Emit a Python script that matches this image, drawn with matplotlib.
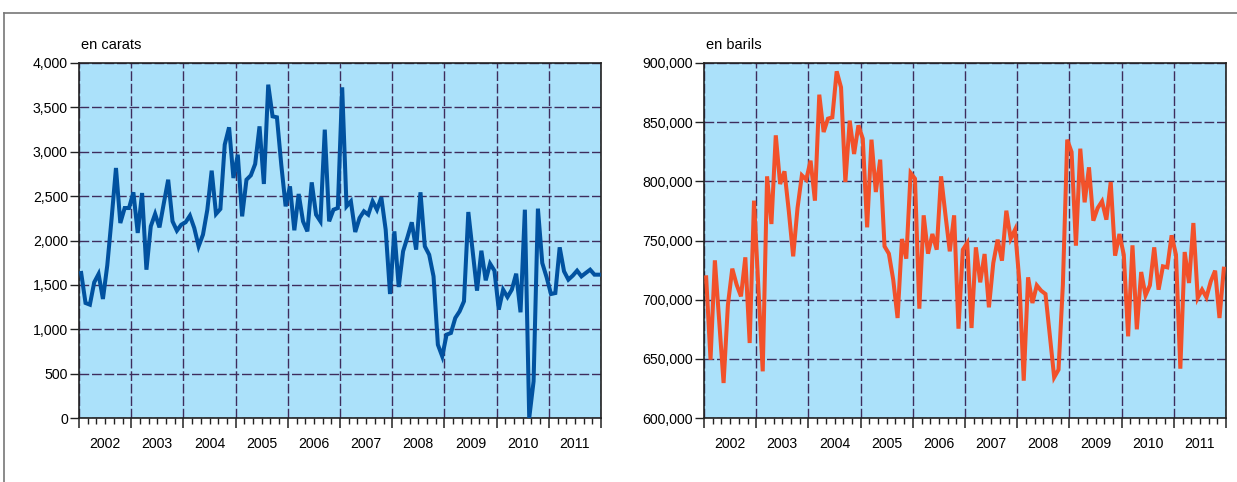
import matplotlib
matplotlib.use("Agg")
import matplotlib.pyplot as plt
import numpy as np
from matplotlib.ticker import FuncFormatter, MultipleLocator
from matplotlib.lines import Line2D

plt.rcParams['font.family'] = ['Liberation Sans', 'DejaVu Sans']

years = [2002, 2003, 2004, 2005, 2006, 2007, 2008, 2009, 2010, 2011]
year_labels = [str(y) for y in years]

carats = [
    # 2002
    1634, 1296, 1277, 1529, 1622, 1341, 1720, 2250, 2817, 2197, 2366, 2366,
    # 2003
    2543, 2085, 2535, 1671, 2160, 2299, 2148, 2420, 2685, 2216, 2111, 2178,
    # 2004
    2205, 2280, 2140, 1934, 2066, 2347, 2787, 2299, 2355, 3080, 3275, 2704,
    # 2005
    2967, 2272, 2685, 2734, 2862, 3286, 2637, 3756, 3399, 3388, 2854, 2385,
    # 2006
    2610, 2115, 2524, 2216, 2103, 2655, 2291, 2216, 3249, 2216, 2347, 2366,
    # 2007
    3726, 2385, 2441, 2096, 2254, 2329, 2291, 2441, 2347, 2486, 2122, 1397,
    # 2008
    2103, 1476, 1878, 2036, 2205, 1897, 2543, 1934, 1840, 1596, 826, 695,
    # 2009
    939, 958, 1127, 1202, 1315, 2321, 1878, 1435, 1885, 1551, 1739, 1660,
    # 2010
    1221, 1446, 1363, 1446, 1626, 1191, 2347, 0, 413, 2359, 1746, 1585,
    # 2011
    1397, 1408, 1923, 1653, 1559, 1604, 1660, 1596, 1634, 1671, 1615, 1615,
]

barrels = [
    # 2002
    718870, 649290, 733230, 681680, 629570, 695770, 726190, 712670, 702810, 735770, 663370, 783660,
    # 2003
    710000, 639430, 804220, 763940, 838870, 797740, 808450, 774640, 736610, 777460, 805070, 801410,
    # 2004
    817460, 783660, 873240, 841690, 852960, 854090, 892960, 879440, 799430, 851270, 823100, 847320,
    # 2005
    836050, 761120, 835210, 790980, 818310, 745070, 738870, 716900, 684500, 751270, 734650, 807040,
    # 2006
    802250, 692390, 771260, 738870, 755490, 742250, 804220, 771820, 740840, 771260, 675480, 742250,
    # 2007
    747880, 676050, 744220, 714640, 738590, 693520, 730980, 750700, 732950, 775200, 751540, 759150,
    # 2008
    715490, 631540, 718870, 697180, 712110, 707600, 704780, 669850, 634360, 640840, 712670, 835210,
    # 2009
    824780, 745630, 827600, 782250, 811830, 766760, 777460, 783100, 767600, 799430, 737180, 755490,
    # 2010
    738020, 669010, 745910, 674930, 723370, 703650, 712110, 744220, 708440, 728160, 727320, 754360,
    # 2011
    738020, 641680, 740270, 714080, 764780, 701400, 708440, 701960, 715490, 724500, 684500, 726190,
]

n = len(carats)
t = years[0] + (np.arange(n) + 0.5) / 12.0

W, H = 1237, 482
fig = plt.figure(figsize=(W / 100, H / 100), dpi=100)

bg = '#ABE1FA'
grid_col = '#3E2D5C'
fs = 10.2


def make_axes(left_px, ylim, ystep, series, color, unit):
    ax = fig.add_axes([left_px / W, (H - 418) / H, 522 / W, 355 / H])
    ax.set_facecolor(bg)
    ax.plot(t, series, color=color, lw=2.9, solid_joinstyle='miter', zorder=3)
    ax.set_xlim(years[0], years[-1] + 1)
    ax.set_ylim(*ylim)
    ax.yaxis.set_major_locator(MultipleLocator(ystep))
    ax.yaxis.set_major_formatter(FuncFormatter(lambda v, p: f"{int(round(v)):,}"))
    ax.set_xticks(list(range(years[0], years[-1] + 2)))
    ax.set_xticklabels([])
    ax.set_xticks(np.arange(years[0], years[-1] + 1, 1 / 6.0), minor=True)
    ax.tick_params(axis='x', which='major', length=7, width=1.1, direction='out', color='#222222')
    ax.tick_params(axis='x', which='minor', length=4.5, width=1.0, direction='out', color='#222222')
    ax.tick_params(axis='y', which='major', length=6.5, width=1.0, direction='out', color='#222222',
                   labelsize=fs, pad=1.5)
    ax.grid(True, which='major', color=grid_col, lw=1.0, linestyle=(0, (7, 2)), zorder=1)
    ax.set_axisbelow(True)
    for s in ax.spines.values():
        s.set_color('#222222')
        s.set_linewidth(1.2)
    sec = ax.secondary_xaxis('bottom')
    sec.set_xticks([y + 0.5 for y in years])
    sec.set_xticklabels(year_labels)
    sec.tick_params(length=0, pad=13.5, labelsize=fs)
    sec.spines['bottom'].set_visible(False)
    fig.text((left_px + 2) / W, 1 - 45 / H, unit, fontsize=10.5, va='center', ha='left')
    return ax


make_axes(79, (0, 4000), 500, carats, '#0152A0', 'en carats')
make_axes(704, (600000, 900000), 50000, barrels, '#F2512A', 'en barils')

# outer frame (top and left edges)
fig.add_artist(Line2D([4 / W, 1], [1 - 13 / H, 1 - 13 / H], transform=fig.transFigure,
                      color='#777777', lw=1.2))
fig.add_artist(Line2D([4 / W, 4 / W], [0, 1 - 13 / H], transform=fig.transFigure,
                      color='#777777', lw=1.2))

fig.savefig('out.png', dpi=100, facecolor='white')
